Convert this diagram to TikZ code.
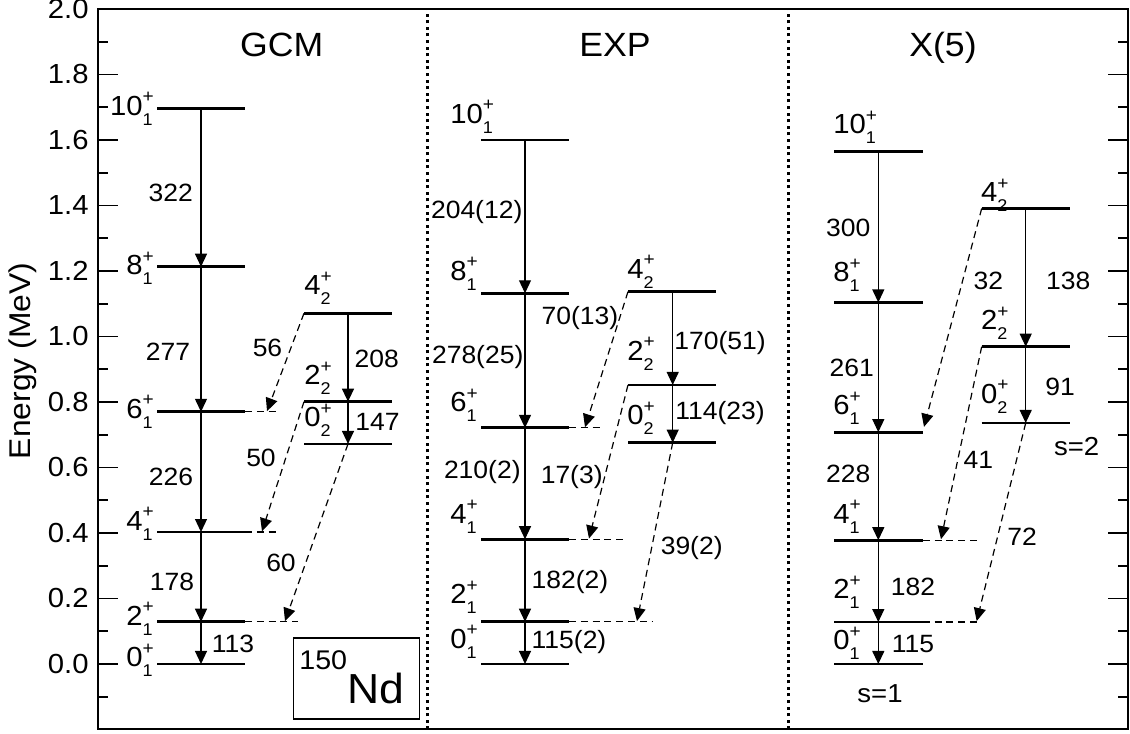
\documentclass[tikz,border=0pt]{standalone}
\usepackage{fontspec}
\setmainfont[FakeStretch=1.06]{Liberation Sans}
\usetikzlibrary{arrows.meta,positioning}
\tikzstyle{level} = [line width=1.4pt]
\tikzstyle{trans} = [line width=0.6pt, -{Triangle[width=6pt,length=6.5pt]}]
\tikzstyle{my dashed} = [line width=0.6pt, dash pattern=on 3.5pt off 2.4pt]
\tikzstyle{weak} = [my dashed, -{Triangle[width=6pt,length=6.5pt]}]
\tikzstyle{my dotted} = [line width=1.5pt, dash pattern=on 1.5pt off 1.8pt]
\tikzstyle{val} = [inner sep=0pt, font=\fontsize{12.5}{14}\selectfont]
\tikzstyle{lab} = [inner sep=0pt, font=\fontsize{13.8}{15}\selectfont]
\tikzstyle{title} = [inner sep=0pt, font=\fontsize{16.8}{19}\selectfont]
\newcommand{\lvl}[2]{#1\rlap{\raisebox{6.2pt}{\fontsize{9}{9}\selectfont+}}\raisebox{-5pt}{\fontsize{8.5}{8.5}\selectfont#2}}

\begin{document}
\begin{tikzpicture}[x=0.5pt,y=163.75pt]
  \useasboundingbox (0,-0.2137) rectangle (1130,2.0275);
  % Frame and ticks
  \draw[line width=1pt] (97.7,-0.2) rectangle (1128,2.0);
  \foreach \t [count=\k] in {0.0,0.2,0.4,0.6,0.8,1.0,1.2,1.4,1.6,1.8,2.0}{
    \draw[line width=0.9pt] (97.7,\t) -- ++(20,0);
    \draw[line width=0.9pt] (1128,\t) -- ++(-20,0);
    \node[val, font=\fontsize{13.8}{15}\selectfont, anchor=east] (tk\k) at (89,\t) {\t};
  }
  \foreach \t in {-0.1,0.1,0.3,0.5,0.7,0.9,1.1,1.3,1.5,1.7,1.9}{
    \draw[line width=0.9pt] (97.7,\t) -- ++(10,0);
    \draw[line width=0.9pt] (1128,\t) -- ++(-10,0);
  }
  \node[rotate=90, font=\fontsize{15}{17}\selectfont] (ylab) at (23,0.925) {Energy (MeV)};
  \draw[my dotted] (427,-0.2) -- (427,2.0);
  \draw[my dotted] (788,-0.2) -- (788,2.0);
  \node[title, anchor=base] (tgcm) at (281.7,1.855) {GCM};
  \node[title, anchor=base] (texp) at (615,1.855) {EXP};
  \node[title, anchor=base] (txf) at (943,1.855) {X(5)};
  % GCM
  \foreach \n/\e/\b in {10/1.695/1.676,8/1.213/1.188,6/0.770/0.750,4/0.403/0.409,2/0.129/0.119,0/0/-0.008}{
    \coordinate (gl\n) at (157,\e);
    \coordinate (gr\n) at (245,\e);
    \coordinate (ga\n) at (201,\e);
    \draw[level] (gl\n) -- (gr\n);
    \node[lab, anchor=base east] (gn\n) at (153,\b) {\lvl{\n}{1}};
  }
  \foreach \n/\e/\b in {4/1.071/1.127,2/0.801/0.852,0/0.672/0.725}{
    \coordinate (hl\n) at (304,\e);
    \coordinate (hr\n) at (392,\e);
    \coordinate (ha\n) at (348,\e);
    \draw[level] (hl\n) -- (hr\n);
    \node[lab, anchor=base west] (hn\n) at (304,\b) {\lvl{\n}{2}};
  }
  \foreach \a/\b in {10/8,8/6,6/4,4/2,2/0}{
    \draw[trans] (ga\a) -- (ga\b);
  }
  \draw[trans] (ha4) -- (ha2);
  \draw[trans] (ha2) -- (ha0);
  \coordinate (gx6) at (279,0.770);
  \coordinate (gx4) at (279,0.403);
  \coordinate (gx2) at (298,0.129);
  \draw[my dashed] (gr6) -- (gx6);
  \draw[my dashed] (gr4) -- (gx4);
  \draw[my dashed] (gr2) -- (gx2);
  \coordinate (gd6) at (267,0.772);
  \coordinate (gd4) at (262,0.405);
  \coordinate (gd2) at (285,0.131);
  \draw[weak] (hl4) -- (gd6);
  \draw[weak] (hl2) -- (gd4);
  \draw[weak] (ha0) -- (gd2);
  \node[val] (g322) at (170.7,1.438) {322};
  \node[val] (g277) at (168,0.954) {277};
  \node[val] (g226) at (171,0.571) {226};
  \node[val] (g178) at (172,0.251) {178};
  \node[val] (g113) at (233,0.061) {113};
  \node[val] (g56) at (267.5,0.966) {56};
  \node[val] (g50) at (261,0.629) {50};
  \node[val] (g60) at (281,0.310) {60};
  \node[val] (g208) at (376.7,0.931) {208};
  \node[val] (g147) at (377.5,0.740) {147};
  \draw[line width=0.8pt] (293.3,0.0794) rectangle (419.3,-0.168);
  \node[inner sep=0pt, anchor=base west] (nuc) at (299,-0.120)
    {{\fontsize{13.5}{13}\selectfont\raisebox{17pt}{150}}{\fontsize{21}{22}\selectfont Nd}};
  % EXP
  \foreach \n/\e/\b in {10/1.600/1.651,8/1.132/1.172,6/0.721/0.770,4/0.381/0.430,2/0.129/0.185,0/0/0.048}{
    \coordinate (el\n) at (481,\e);
    \coordinate (er\n) at (569,\e);
    \coordinate (ea\n) at (525,\e);
    \draw[level] (el\n) -- (er\n);
    \node[lab, anchor=base west] (en\n) at (450,\b) {\lvl{\n}{1}};
  }
  \foreach \n/\e/\b in {4/1.137/1.178,2/0.852/0.928,0/0.676/0.730}{
    \coordinate (fl\n) at (628,\e);
    \coordinate (fr\n) at (716,\e);
    \coordinate (fa\n) at (672.7,\e);
    \draw[level] (fl\n) -- (fr\n);
    \node[lab, anchor=base west] (fn\n) at (627,\b) {\lvl{\n}{2}};
  }
  \foreach \a/\b in {10/8,8/6,6/4,4/2,2/0}{
    \draw[trans] (ea\a) -- (ea\b);
  }
  \draw[trans] (fa4) -- (fa2);
  \draw[trans] (fa2) -- (fa0);
  \coordinate (ex6) at (602.7,0.721);
  \coordinate (ex4) at (624,0.381);
  \coordinate (ex2) at (653,0.129);
  \draw[my dashed] (er6) -- (ex6);
  \draw[my dashed] (er4) -- (ex4);
  \draw[my dashed] (er2) -- (ex2);
  \coordinate (ed6) at (585,0.723);
  \coordinate (ed4) at (589,0.383);
  \coordinate (ed2) at (637,0.131);
  \draw[weak] (fl4) -- (ed6);
  \draw[weak] (fl2) -- (ed4);
  \draw[weak] (fa0) -- (ed2);
  \node[val] (e204) at (476.7,1.381) {204(12)};
  \node[val] (e278) at (477.7,0.938) {278(25)};
  \node[val] (e70) at (580,1.056) {70(13)};
  \node[val] (e170) at (720,0.979) {170(51)};
  \node[val] (e114) at (720,0.765) {114(23)};
  \node[val] (e210) at (482.3,0.587) {210(2)};
  \node[val] (e17) at (571.7,0.572) {17(3)};
  \node[val] (e39) at (691.7,0.353) {39(2)};
  \node[val] (e182) at (570,0.251) {182(2)};
  \node[val] (e115) at (569,0.068) {115(2)};
  % X(5)
  \foreach \n/\e/\b in {10/1.566/1.620,8/1.104/1.167,6/0.708/0.762,4/0.378/0.430,2/0.128/0.2,0/0/0.043}{
    \coordinate (xl\n) at (834,\e);
    \coordinate (xr\n) at (922.7,\e);
    \coordinate (xa\n) at (878.3,\e);
    \draw[level] (xl\n) -- (xr\n);
    \node[lab, anchor=base west] (xn\n) at (833,\b) {\lvl{\n}{1}};
  }
  \foreach \n/\e/\b in {4/1.391/1.412,2/0.969/1.020,0/0.736/0.796}{
    \coordinate (yl\n) at (981.7,\e);
    \coordinate (yr\n) at (1070,\e);
    \coordinate (ya\n) at (1025.7,\e);
    \draw[level] (yl\n) -- (yr\n);
    \node[lab, anchor=base west] (yn\n) at (980.7,\b) {\lvl{\n}{2}};
  }
  \foreach \a/\b in {10/8,8/6,6/4,4/2,2/0}{
    \draw[trans] (xa\a) -- (xa\b);
  }
  \draw[trans] (ya4) -- (ya2);
  \draw[trans] (ya2) -- (ya0);
  \coordinate (xx4) at (978,0.378);
  \coordinate (xx2) at (976.7,0.128);
  \draw[my dashed] (xr4) -- (xx4);
  \draw[my dashed] (xr2) -- (xx2);
  \coordinate (xd6) at (924,0.724);
  \coordinate (xd4) at (941,0.381);
  \coordinate (xd2) at (976.7,0.131);
  \draw[weak] (yl4) -- (xd6);
  \draw[weak] (yl2) -- (xd4);
  \draw[weak] (ya0) -- (xd2);
  \node[val] (x300) at (848.3,1.333) {300};
  \node[val] (x32) at (988.3,1.169) {32};
  \node[val] (x138) at (1068.3,1.169) {138};
  \node[val] (x261) at (851.7,0.904) {261};
  \node[val] (x91) at (1060,0.845) {91};
  \node[val] (x228) at (848.3,0.580) {228};
  \node[val] (x41) at (978.3,0.623) {41};
  \node[val] (x72) at (1022,0.389) {72};
  \node[val] (x182) at (913,0.234) {182};
  \node[val] (x115) at (913,0.061) {115};
  \node[val, font=\fontsize{13}{15}\selectfont] (s2) at (1076.7,0.663) {s=2};
  \node[val, font=\fontsize{13}{15}\selectfont] (s1) at (880,-0.092) {s=1};
\end{tikzpicture}
\end{document}
